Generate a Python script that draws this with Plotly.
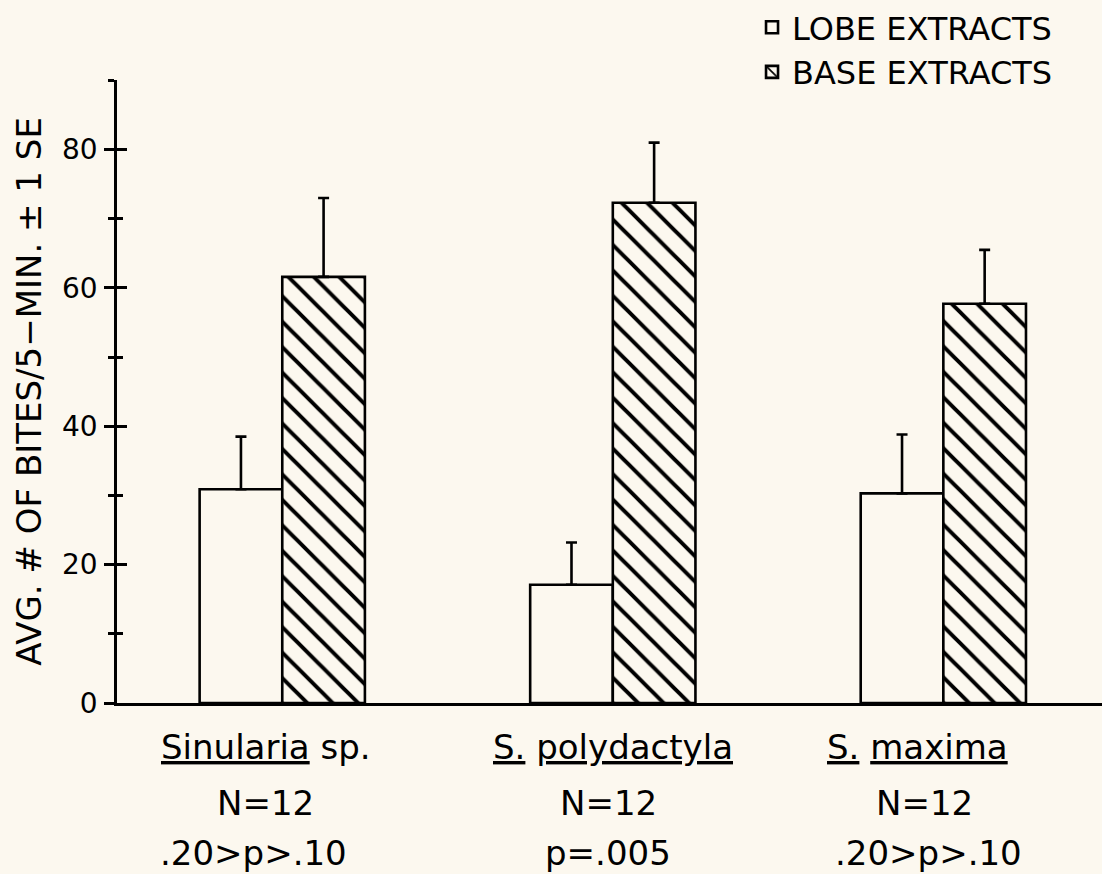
import plotly.graph_objects as go

# ---------------- data ----------------
categories = ["Sinularia sp.", "S. polydactyla", "S. maxima"]
category_labels = ["<u>Sinularia</u> sp.", "<u>S.</u> <u>polydactyla</u>", "<u>S.</u> <u>maxima</u>"]
n_labels = ["N=12", "N=12", "N=12"]
p_labels = [".20>p>.10", "p=.005", ".20>p>.10"]

lobe_means = [30.9, 17.1, 30.3]
lobe_se = [7.6, 6.1, 8.5]
base_means = [61.6, 72.3, 57.7]
base_se = [11.4, 8.7, 7.8]

major_ticks = [0, 20, 40, 60, 80]
major_labels = ["0", "20", "40", "60", "80"]

y_title = "AVG. # OF BITES/5\u2212MIN. \u00b1 1 SE"

# ---------------- style ----------------
BG = "#fcf8ef"
INK = "#000000"
FONT = "DejaVu Sans"
LW = 2.6

fig = go.Figure()

fig.add_trace(go.Bar(
    name="LOBE EXTRACTS",
    x=categories, y=lobe_means,
    marker=dict(color=BG, line=dict(color=INK, width=LW)),
    error_y=dict(type="data", symmetric=False, array=lobe_se,
                 arrayminus=[0] * len(lobe_se), color=INK, thickness=LW, width=5.5),
))
fig.add_trace(go.Bar(
    name="BASE EXTRACTS",
    x=categories, y=base_means,
    marker=dict(color=BG, line=dict(color=INK, width=LW),
                pattern=dict(shape="\\", fgcolor=INK, fgopacity=1, bgcolor=BG, size=18, solidity=0.22)),
    error_y=dict(type="data", symmetric=False, array=base_se,
                 arrayminus=[0] * len(base_se), color=INK, thickness=LW, width=5.5),
))
# empty helper trace so the inner-tick overlay axis is drawn
fig.add_trace(go.Scatter(x=[], y=[], yaxis="y2", showlegend=False, hoverinfo="skip"))

# category text below the axis
shifts1 = [-16, 0, -26]
shifts2 = [-17, -4, -19]
shifts3 = [-29, -5, -15]
annotations = []
for i, c in enumerate(categories):
    for txt, ys, xs in ((category_labels[i], -44, shifts1[i]),
                        (n_labels[i], -100, shifts2[i]),
                        (p_labels[i], -150, shifts3[i])):
        annotations.append(dict(
            x=c, xref="x", y=0, yref="paper", text=txt, showarrow=False,
            xanchor="center", yanchor="middle", xshift=xs, yshift=ys,
            font=dict(family=FONT, size=34, color=INK)))

fig.update_layout(
    width=1102, height=874,
    margin=dict(l=117, r=0, t=80, b=171, pad=0, autoexpand=False),
    paper_bgcolor=BG, plot_bgcolor=BG,
    barmode="group", bargap=0.5, bargroupgap=0,
    font=dict(family=FONT, color=INK),
    xaxis=dict(type="category", range=[-0.5, 2.48], showline=True, linecolor=INK,
               linewidth=LW, ticks="", showticklabels=False, showgrid=False, zeroline=False),
    yaxis=dict(range=[0, 90.05], tickmode="array", tickvals=major_ticks, ticktext=major_labels,
               ticks="outside", ticklen=10, tickwidth=LW, tickcolor=INK,
               minor=dict(dtick=10, tick0=0, ticks="outside", ticklen=6, tickwidth=LW, tickcolor=INK),
               showline=True, linecolor=INK, linewidth=LW, showgrid=False, zeroline=False,
               tickfont=dict(family=FONT, size=28, color=INK), ticklabelstandoff=1,
               title=dict(text=y_title, font=dict(family=FONT, size=34, color=INK), standoff=11)),
    yaxis2=dict(overlaying="y", anchor="x", side="left", range=[0, 90.05],
                tickmode="array", tickvals=major_ticks,
                ticks="inside", ticklen=10, tickwidth=LW, tickcolor=INK,
                minor=dict(dtick=10, tick0=0, ticks="inside", ticklen=6, tickwidth=LW, tickcolor=INK),
                showticklabels=False, showline=False, showgrid=False, zeroline=False),
    legend=dict(x=0.6447, xanchor="left", yref="container", y=1.0, yanchor="top",
                font=dict(family=FONT, size=32, color=INK), bgcolor="rgba(0,0,0,0)",
                traceorder="normal"),
    annotations=annotations,
)

fig.write_html("out.html", config={"displayModeBar": False},
               post_script="document.body.style.margin='0';")
